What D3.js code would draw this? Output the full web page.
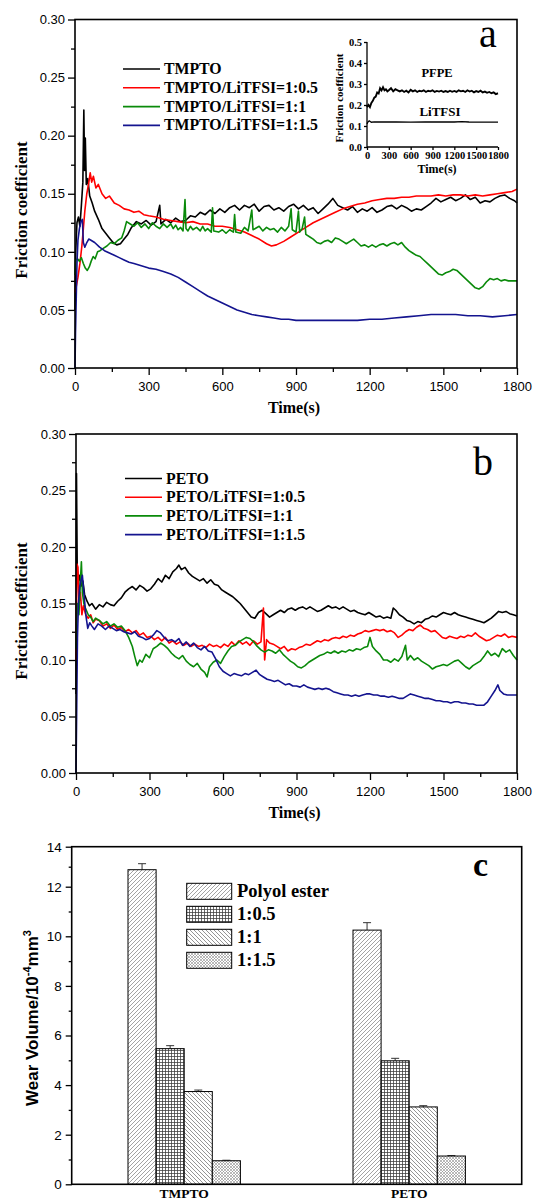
<!DOCTYPE html>
<html><head><meta charset="utf-8">
<script src="https://cdn.jsdelivr.net/npm/d3@7"></script>
<style>body{margin:0;background:#fff}svg{display:block}</style>
</head><body>
<svg id="chart" width="533" height="1200"></svg>
<script>
// ---------------- DATA ----------------
const timeTicks = [0,300,600,900,1200,1500,1800];
const timeMinor = [150,450,750,1050,1350,1650];
const fricTicks = [0,0.05,0.10,0.15,0.20,0.25,0.30];
const fricMinor = [0.025,0.075,0.125,0.175,0.225,0.275];

const seriesNamesA = ["TMPTO","TMPTO/LiTFSI=1:0.5","TMPTO/LiTFSI=1:1","TMPTO/LiTFSI=1:1.5"];
const seriesNamesB = ["PETO","PETO/LiTFSI=1:0.5","PETO/LiTFSI=1:1","PETO/LiTFSI=1:1.5"];
const seriesColors = ["#000000","#ff0000","#0a8a0a","#14148f"];

const tmpto = [[0,0.05],[3,0.10],[8,0.125],[14,0.13],[20,0.122],[26,0.14],[32,0.16],[36,0.222],[39,0.17],[42,0.198],[46,0.158],[52,0.163],[60,0.148],[70,0.142],[80,0.135],[95,0.128],[110,0.12],[125,0.116],[140,0.112],[155,0.108],[170,0.106],[185,0.107],[200,0.111],[215,0.115],[230,0.121],[250,0.126],[270,0.124],[290,0.127],[310,0.123],[330,0.126],[345,0.14],[350,0.124],[370,0.128],[390,0.125],[410,0.129],[430,0.126],[450,0.127],[470,0.131],[490,0.13],[510,0.134],[530,0.132],[550,0.136],[570,0.133],[590,0.137],[610,0.134],[630,0.138],[650,0.14],[670,0.136],[690,0.14],[710,0.138],[730,0.141],[750,0.135],[770,0.139],[790,0.14],[810,0.136],[830,0.138],[850,0.135],[870,0.139],[890,0.141],[910,0.137],[930,0.14],[950,0.136],[970,0.138],[990,0.133],[1010,0.137],[1030,0.141],[1050,0.146],[1070,0.14],[1090,0.138],[1110,0.136],[1130,0.139],[1150,0.134],[1170,0.137],[1190,0.135],[1210,0.138],[1230,0.134],[1250,0.136],[1270,0.139],[1290,0.14],[1310,0.137],[1330,0.14],[1350,0.138],[1370,0.135],[1390,0.137],[1410,0.136],[1430,0.139],[1450,0.142],[1470,0.146],[1490,0.143],[1510,0.145],[1530,0.147],[1550,0.144],[1570,0.146],[1590,0.149],[1610,0.145],[1630,0.147],[1650,0.142],[1670,0.144],[1690,0.143],[1710,0.146],[1730,0.148],[1750,0.149],[1770,0.146],[1790,0.144],[1800,0.142]];
const tmpto05 = [[0,0.065],[5,0.07],[12,0.078],[20,0.09],[28,0.105],[34,0.12],[40,0.135],[48,0.15],[55,0.158],[62,0.168],[68,0.16],[75,0.165],[85,0.155],[95,0.158],[110,0.15],[125,0.146],[140,0.148],[160,0.142],[180,0.14],[200,0.137],[220,0.136],[240,0.134],[260,0.135],[280,0.132],[300,0.131],[330,0.13],[360,0.128],[390,0.127],[420,0.126],[450,0.125],[480,0.126],[510,0.124],[540,0.124],[570,0.122],[600,0.122],[630,0.121],[660,0.119],[690,0.117],[720,0.114],[750,0.111],[780,0.107],[800,0.105],[820,0.106],[850,0.109],[880,0.113],[910,0.117],[940,0.121],[970,0.125],[1000,0.128],[1030,0.131],[1060,0.134],[1090,0.137],[1120,0.139],[1150,0.141],[1180,0.142],[1210,0.144],[1240,0.145],[1270,0.146],[1300,0.146],[1330,0.147],[1360,0.147],[1390,0.148],[1420,0.148],[1450,0.148],[1480,0.149],[1510,0.148],[1540,0.149],[1570,0.149],[1600,0.148],[1630,0.149],[1660,0.148],[1690,0.149],[1720,0.15],[1750,0.151],[1780,0.152],[1800,0.154]];
const tmpto1 = [[0,0.08],[3,0.093],[10,0.094],[18,0.092],[26,0.095],[34,0.09],[42,0.086],[50,0.084],[58,0.087],[66,0.092],[74,0.096],[82,0.094],[92,0.1],[102,0.101],[115,0.103],[130,0.105],[145,0.108],[160,0.107],[175,0.11],[190,0.112],[200,0.118],[210,0.126],[225,0.124],[240,0.122],[255,0.125],[270,0.121],[285,0.124],[300,0.12],[315,0.125],[330,0.122],[345,0.12],[360,0.124],[375,0.121],[390,0.124],[400,0.12],[410,0.123],[420,0.119],[430,0.121],[440,0.118],[448,0.145],[452,0.12],[460,0.118],[470,0.122],[480,0.119],[495,0.121],[510,0.118],[520,0.122],[530,0.118],[540,0.12],[555,0.117],[560,0.138],[565,0.118],[585,0.117],[600,0.119],[615,0.116],[630,0.119],[645,0.117],[650,0.132],[655,0.117],[675,0.116],[690,0.121],[705,0.118],[720,0.136],[725,0.119],[750,0.122],[765,0.118],[780,0.121],[795,0.119],[810,0.12],[825,0.117],[840,0.121],[855,0.118],[870,0.122],[880,0.137],[885,0.119],[900,0.117],[910,0.135],[915,0.117],[925,0.12],[935,0.13],[940,0.115],[955,0.113],[970,0.111],[985,0.108],[1000,0.107],[1015,0.109],[1030,0.11],[1045,0.108],[1060,0.112],[1075,0.111],[1090,0.109],[1105,0.107],[1120,0.109],[1135,0.111],[1150,0.108],[1165,0.105],[1180,0.106],[1195,0.104],[1210,0.106],[1225,0.104],[1240,0.106],[1255,0.107],[1270,0.105],[1285,0.107],[1300,0.108],[1315,0.106],[1330,0.108],[1345,0.104],[1360,0.101],[1375,0.099],[1390,0.097],[1405,0.096],[1420,0.093],[1435,0.09],[1450,0.087],[1465,0.084],[1480,0.081],[1495,0.08],[1510,0.082],[1525,0.083],[1540,0.085],[1555,0.084],[1570,0.081],[1585,0.078],[1600,0.075],[1615,0.072],[1630,0.069],[1645,0.068],[1660,0.07],[1675,0.074],[1690,0.077],[1705,0.076],[1720,0.077],[1735,0.075],[1750,0.076],[1765,0.075],[1780,0.075],[1800,0.075]];
const tmpto15 = [[0,0.0],[2,0.03],[5,0.06],[8,0.09],[12,0.11],[18,0.12],[24,0.126],[30,0.128],[34,0.108],[40,0.104],[48,0.108],[56,0.111],[65,0.11],[80,0.108],[100,0.104],[120,0.101],[140,0.099],[160,0.097],[180,0.095],[200,0.093],[220,0.091],[240,0.09],[270,0.088],[300,0.086],[330,0.085],[360,0.083],[390,0.081],[420,0.078],[450,0.074],[480,0.07],[510,0.066],[540,0.062],[570,0.059],[600,0.056],[630,0.053],[660,0.05],[690,0.048],[720,0.046],[750,0.045],[780,0.044],[810,0.043],[840,0.042],[870,0.042],[900,0.041],[950,0.041],[1000,0.041],[1050,0.041],[1100,0.041],[1150,0.041],[1200,0.042],[1250,0.042],[1300,0.043],[1350,0.044],[1400,0.045],[1450,0.046],[1500,0.046],[1550,0.046],[1600,0.045],[1650,0.045],[1700,0.044],[1750,0.045],[1800,0.046]];

const peto = [[0,0.07],[2,0.265],[5,0.18],[10,0.17],[15,0.175],[20,0.165],[28,0.17],[35,0.158],[45,0.152],[55,0.148],[65,0.15],[80,0.145],[95,0.149],[110,0.147],[125,0.151],[140,0.149],[155,0.148],[170,0.152],[185,0.155],[200,0.16],[215,0.163],[230,0.165],[245,0.162],[260,0.166],[275,0.164],[290,0.161],[305,0.163],[320,0.167],[335,0.172],[350,0.169],[365,0.175],[380,0.172],[395,0.178],[410,0.181],[420,0.184],[430,0.18],[445,0.182],[460,0.177],[475,0.174],[490,0.172],[505,0.17],[520,0.172],[535,0.168],[550,0.171],[565,0.167],[580,0.166],[595,0.162],[610,0.16],[625,0.158],[640,0.156],[655,0.153],[670,0.15],[685,0.146],[700,0.142],[715,0.138],[730,0.137],[745,0.142],[760,0.144],[775,0.141],[790,0.138],[805,0.14],[820,0.142],[835,0.144],[850,0.142],[865,0.145],[880,0.146],[895,0.144],[910,0.146],[925,0.147],[940,0.145],[955,0.147],[970,0.145],[985,0.143],[1000,0.144],[1015,0.146],[1030,0.148],[1045,0.146],[1060,0.147],[1075,0.145],[1090,0.147],[1105,0.145],[1120,0.143],[1135,0.144],[1150,0.142],[1165,0.141],[1180,0.14],[1195,0.142],[1210,0.14],[1225,0.138],[1240,0.139],[1255,0.137],[1270,0.138],[1285,0.137],[1295,0.146],[1305,0.144],[1320,0.14],[1335,0.138],[1350,0.135],[1365,0.134],[1380,0.132],[1395,0.134],[1410,0.133],[1425,0.136],[1440,0.137],[1455,0.139],[1470,0.138],[1485,0.14],[1500,0.142],[1515,0.141],[1530,0.14],[1545,0.142],[1560,0.14],[1575,0.139],[1590,0.138],[1605,0.137],[1620,0.136],[1635,0.135],[1650,0.134],[1665,0.133],[1680,0.135],[1695,0.137],[1710,0.14],[1725,0.143],[1740,0.142],[1755,0.143],[1770,0.141],[1785,0.14],[1800,0.139]];
const peto05 = [[0,0.1],[4,0.185],[8,0.182],[12,0.15],[18,0.16],[24,0.14],[30,0.148],[40,0.14],[50,0.137],[60,0.14],[70,0.133],[80,0.136],[95,0.135],[110,0.13],[125,0.132],[140,0.128],[155,0.131],[170,0.127],[185,0.129],[200,0.125],[215,0.127],[230,0.124],[245,0.126],[260,0.122],[275,0.124],[290,0.12],[305,0.121],[320,0.118],[335,0.12],[350,0.117],[365,0.12],[380,0.115],[395,0.117],[410,0.114],[425,0.116],[440,0.113],[455,0.115],[470,0.112],[485,0.114],[500,0.112],[515,0.113],[530,0.111],[545,0.114],[560,0.112],[575,0.113],[590,0.111],[605,0.114],[620,0.112],[635,0.116],[650,0.113],[665,0.117],[680,0.114],[695,0.116],[710,0.113],[725,0.117],[740,0.114],[755,0.116],[765,0.146],[770,0.1],[778,0.118],[790,0.115],[805,0.114],[820,0.112],[835,0.11],[850,0.112],[865,0.108],[880,0.11],[895,0.109],[910,0.111],[925,0.112],[940,0.114],[955,0.113],[970,0.115],[985,0.117],[1000,0.116],[1015,0.118],[1030,0.117],[1045,0.119],[1060,0.12],[1075,0.119],[1090,0.121],[1105,0.12],[1120,0.122],[1135,0.121],[1150,0.123],[1165,0.124],[1180,0.126],[1195,0.125],[1210,0.126],[1225,0.127],[1240,0.126],[1255,0.127],[1270,0.125],[1285,0.126],[1300,0.124],[1315,0.12],[1330,0.122],[1345,0.125],[1360,0.127],[1375,0.126],[1390,0.129],[1405,0.131],[1420,0.128],[1435,0.127],[1450,0.125],[1465,0.126],[1480,0.123],[1495,0.12],[1510,0.119],[1525,0.121],[1540,0.12],[1555,0.119],[1570,0.121],[1585,0.12],[1600,0.122],[1615,0.121],[1630,0.124],[1645,0.121],[1660,0.119],[1675,0.117],[1690,0.118],[1705,0.12],[1720,0.122],[1735,0.121],[1750,0.123],[1765,0.12],[1780,0.121],[1800,0.12]];
const peto1 = [[0,0.11],[6,0.15],[12,0.14],[18,0.17],[22,0.187],[26,0.16],[32,0.15],[40,0.145],[50,0.14],[60,0.138],[70,0.134],[80,0.137],[95,0.135],[110,0.132],[125,0.134],[140,0.13],[155,0.132],[170,0.129],[185,0.13],[200,0.126],[215,0.12],[230,0.112],[240,0.103],[250,0.095],[260,0.1],[270,0.098],[285,0.105],[300,0.102],[315,0.11],[330,0.112],[345,0.115],[360,0.113],[375,0.11],[390,0.106],[405,0.103],[420,0.101],[435,0.104],[450,0.099],[465,0.096],[480,0.094],[495,0.097],[510,0.092],[525,0.089],[535,0.085],[545,0.094],[560,0.098],[575,0.1],[590,0.097],[605,0.103],[620,0.108],[635,0.112],[650,0.113],[665,0.116],[680,0.118],[695,0.12],[710,0.119],[725,0.116],[740,0.112],[755,0.109],[770,0.107],[785,0.109],[800,0.108],[815,0.106],[830,0.109],[845,0.105],[860,0.102],[875,0.099],[890,0.097],[905,0.094],[920,0.093],[935,0.095],[950,0.098],[965,0.1],[980,0.102],[995,0.104],[1010,0.105],[1025,0.107],[1040,0.106],[1055,0.108],[1070,0.106],[1085,0.108],[1100,0.107],[1115,0.109],[1130,0.108],[1145,0.11],[1160,0.109],[1175,0.111],[1190,0.112],[1200,0.12],[1210,0.112],[1225,0.108],[1240,0.105],[1255,0.1],[1270,0.1],[1285,0.098],[1300,0.101],[1315,0.099],[1330,0.103],[1345,0.113],[1352,0.1],[1365,0.104],[1380,0.1],[1395,0.102],[1410,0.099],[1425,0.097],[1440,0.095],[1455,0.092],[1470,0.094],[1485,0.095],[1500,0.096],[1515,0.095],[1530,0.097],[1545,0.099],[1560,0.1],[1575,0.097],[1590,0.094],[1605,0.092],[1620,0.095],[1635,0.097],[1650,0.099],[1665,0.103],[1680,0.108],[1695,0.104],[1710,0.106],[1725,0.103],[1740,0.11],[1755,0.107],[1770,0.109],[1785,0.104],[1800,0.1]];
const peto15 = [[0,0.0],[3,0.06],[6,0.12],[10,0.15],[15,0.165],[20,0.17],[26,0.175],[32,0.16],[40,0.14],[48,0.128],[56,0.133],[65,0.13],[75,0.127],[90,0.132],[105,0.13],[120,0.127],[135,0.13],[150,0.128],[165,0.126],[180,0.127],[195,0.125],[210,0.124],[225,0.123],[240,0.125],[255,0.121],[270,0.12],[285,0.118],[300,0.119],[315,0.122],[330,0.126],[345,0.124],[360,0.12],[375,0.117],[390,0.118],[405,0.116],[420,0.119],[435,0.113],[450,0.116],[465,0.112],[480,0.115],[495,0.111],[510,0.109],[525,0.112],[540,0.108],[555,0.107],[570,0.101],[585,0.094],[600,0.09],[615,0.088],[630,0.086],[645,0.088],[660,0.087],[675,0.086],[690,0.088],[705,0.087],[720,0.089],[735,0.091],[750,0.087],[765,0.085],[780,0.083],[795,0.082],[810,0.081],[825,0.082],[840,0.08],[855,0.078],[870,0.079],[885,0.077],[900,0.077],[915,0.076],[930,0.078],[945,0.076],[960,0.075],[975,0.074],[990,0.075],[1005,0.074],[1020,0.075],[1035,0.074],[1050,0.072],[1065,0.071],[1080,0.07],[1095,0.069],[1110,0.069],[1125,0.068],[1140,0.069],[1155,0.068],[1170,0.069],[1185,0.07],[1200,0.07],[1215,0.069],[1230,0.069],[1245,0.068],[1260,0.068],[1275,0.067],[1290,0.068],[1305,0.067],[1320,0.066],[1335,0.066],[1350,0.068],[1365,0.07],[1380,0.069],[1395,0.068],[1410,0.067],[1425,0.066],[1440,0.066],[1455,0.065],[1470,0.064],[1485,0.064],[1500,0.063],[1515,0.063],[1530,0.062],[1545,0.063],[1560,0.063],[1575,0.062],[1590,0.062],[1605,0.061],[1620,0.061],[1635,0.06],[1650,0.06],[1665,0.06],[1680,0.063],[1695,0.068],[1710,0.073],[1722,0.078],[1730,0.073],[1745,0.07],[1760,0.069],[1780,0.069],[1800,0.069]];

// inset
const insetTimeTicks = [0,300,600,900,1200,1500,1800];
const insetFricTicks = [0,0.1,0.2,0.3,0.4,0.5];
const pfpe = [[0,0.19],[20,0.2],[40,0.19],[60,0.21],[80,0.22],[100,0.235],[120,0.24],[140,0.26],[160,0.255],[180,0.28],[200,0.27],[220,0.285],[240,0.27],[260,0.275],[280,0.265],[300,0.27],[330,0.28],[360,0.265],[390,0.275],[420,0.27],[450,0.265],[480,0.27],[510,0.262],[540,0.268],[570,0.26],[600,0.272],[630,0.265],[660,0.27],[690,0.262],[720,0.268],[750,0.265],[780,0.27],[810,0.262],[840,0.268],[870,0.265],[900,0.27],[930,0.262],[960,0.267],[990,0.264],[1020,0.268],[1050,0.262],[1080,0.266],[1110,0.262],[1140,0.268],[1170,0.263],[1200,0.267],[1230,0.262],[1260,0.27],[1290,0.265],[1320,0.268],[1350,0.262],[1380,0.27],[1410,0.264],[1440,0.268],[1470,0.26],[1500,0.266],[1530,0.262],[1560,0.268],[1590,0.26],[1620,0.264],[1650,0.258],[1680,0.262],[1710,0.256],[1740,0.26],[1770,0.252],[1800,0.256]];
const litfsi = [[0,0.11],[15,0.12],[30,0.125],[60,0.118],[100,0.12],[200,0.119],[400,0.12],[600,0.118],[800,0.119],[1000,0.12],[1200,0.119],[1300,0.121],[1400,0.119],[1600,0.118],[1800,0.118]];

// wear volume bars
const barCategories = ["TMPTO","PETO"];
const barSeries = ["Polyol ester","1:0.5","1:1","1:1.5"];
const wearTMPTO = [12.85,5.47,3.74,0.95];
const wearPETO = [10.25,4.98,3.12,1.14];
const errTMPTO = [0.3,0.12,0.06,0.02];
const errPETO = [0.3,0.1,0.05,0.02];
const wearTicks = [0,2,4,6,8,10,12,14];
const wearMinor = [1,3,5,7,9,11,13];

// ---------------- DRAW ----------------
const SERIF = "'Liberation Serif','Times New Roman',serif";
const SANS = "'Liberation Sans',Arial,sans-serif";
const svg = d3.select("#chart");
const defs = svg.append("defs");

function styleAxis(g, fs, family, weight){
  g.selectAll("path.domain").remove();
  g.selectAll("line").attr("stroke","#000").attr("stroke-width",1.3);
  g.selectAll("text").attr("font-size",fs).attr("font-family",family).attr("font-weight",weight||"normal").attr("fill","#000");
}

function frictionPanel(cfg){
  const x = d3.scaleLinear().domain([0,1800]).range([cfg.L,cfg.R]);
  const y = d3.scaleLinear().domain([0,0.30]).range([cfg.B,cfg.T]);
  const g = svg.append("g");
  g.append("g").attr("transform",`translate(${cfg.L},0)`)
    .call(d3.axisLeft(y).tickValues(fricMinor).tickSize(4).tickFormat(""))
    .call(a=>styleAxis(a,13,SANS));
  g.append("g").attr("transform",`translate(0,${cfg.B})`)
    .call(d3.axisBottom(x).tickValues(timeMinor).tickSize(4).tickFormat(""))
    .call(a=>styleAxis(a,13,SANS));
  g.append("g").attr("transform",`translate(${cfg.L},0)`)
    .call(d3.axisLeft(y).tickValues(fricTicks).tickSize(7).tickPadding(3).tickFormat(d3.format(".2f")))
    .call(a=>styleAxis(a,13,SANS));
  g.append("g").attr("transform",`translate(0,${cfg.B})`)
    .call(d3.axisBottom(x).tickValues(timeTicks).tickSize(7).tickPadding(7).tickFormat(d3.format("d")))
    .call(a=>styleAxis(a,13,SANS));
  const line = d3.line().x(d=>x(d[0])).y(d=>y(d[1]));
  cfg.series.forEach((s,i)=>{
    g.append("path").datum(s).attr("d",line).attr("fill","none")
      .attr("stroke",seriesColors[i]).attr("stroke-width",1.6).attr("stroke-linejoin","round");
  });
  g.append("rect").attr("x",cfg.L).attr("y",cfg.T).attr("width",cfg.R-cfg.L).attr("height",cfg.B-cfg.T)
    .attr("fill","none").attr("stroke","#000").attr("stroke-width",1.6);
  cfg.names.forEach((n,i)=>{
    const ly = cfg.legY + i*cfg.legStep;
    g.append("line").attr("x1",cfg.legX).attr("x2",cfg.legX+37).attr("y1",ly).attr("y2",ly)
      .attr("stroke",seriesColors[i]).attr("stroke-width",1.6);
    g.append("text").attr("x",cfg.legX+41).attr("y",ly+5).text(n)
      .attr("font-family",SERIF).attr("font-weight","bold").attr("font-size",15.8);
  });
  g.append("text").attr("x",(cfg.L+cfg.R)/2-2).attr("y",cfg.B+45).attr("text-anchor","middle")
    .attr("font-family",SERIF).attr("font-weight","bold").attr("font-size",16).text("Time(s)");
  g.append("text").attr("transform",`translate(27,${cfg.yLabC}) rotate(-90)`).attr("text-anchor","middle")
    .attr("font-family",SERIF).attr("font-weight","bold").attr("font-size",17).text("Friction coefficient");
  g.append("text").attr("x",cfg.letX).attr("y",cfg.letY).attr("font-family",SERIF)
    .attr("font-size",40).text(cfg.letter);
  return {x,y,g};
}

frictionPanel({L:75,R:517,T:19.5,B:368,series:[tmpto,tmpto05,tmpto1,tmpto15],names:seriesNamesA,
  legX:123,legY:69,legStep:18.8,yLabC:210,letter:"a",letX:479,letY:47});
frictionPanel({L:76,R:517,T:434,B:773,series:[peto,peto05,peto1,peto15],names:seriesNamesB,
  legX:125,legY:478.5,legStep:18.7,yLabC:611,letter:"b",letX:473,letY:475});

// inset
(function(){
  const L=367,R=498,T=42,B=147;
  const x = d3.scaleLinear().domain([0,1800]).range([L,R]);
  const y = d3.scaleLinear().domain([0,0.5]).range([B,T]);
  const g = svg.append("g");
  g.append("g").attr("transform",`translate(${L},0)`)
    .call(d3.axisLeft(y).tickValues(insetFricTicks).tickSize(3).tickPadding(2).tickFormat(d3.format(".1f")))
    .call(a=>styleAxis(a,10.5,SERIF,"bold"));
  g.append("g").attr("transform",`translate(0,${B})`)
    .call(d3.axisBottom(x).tickValues(insetTimeTicks).tickSize(3).tickPadding(2).tickFormat(d3.format("d")))
    .call(a=>styleAxis(a,10.5,SERIF,"bold"));
  g.append("line").attr("x1",L).attr("x2",L).attr("y1",T).attr("y2",B).attr("stroke","#000").attr("stroke-width",1.3);
  g.append("line").attr("x1",L).attr("x2",R).attr("y1",B).attr("y2",B).attr("stroke","#000").attr("stroke-width",1.3);
  const line = d3.line().x(d=>x(d[0])).y(d=>y(d[1]));
  g.append("path").datum(pfpe).attr("d",line).attr("fill","none").attr("stroke","#000").attr("stroke-width",1.9);
  g.append("path").datum(litfsi).attr("d",line).attr("fill","none").attr("stroke","#000").attr("stroke-width",1.3);
  g.append("text").attr("x",437).attr("y",77).attr("text-anchor","middle").attr("font-family",SERIF).attr("font-weight","bold").attr("font-size",12.5).text("PFPE");
  g.append("text").attr("x",440).attr("y",116).attr("text-anchor","middle").attr("font-family",SERIF).attr("font-weight","bold").attr("font-size",13).text("LiTFSI");
  g.append("text").attr("x",437).attr("y",173).attr("text-anchor","middle").attr("font-family",SERIF).attr("font-weight","bold").attr("font-size",12).text("Time(s)");
  g.append("text").attr("transform","translate(343,98) rotate(-90)").attr("text-anchor","middle").attr("font-family",SERIF).attr("font-weight","bold").attr("font-size",11).text("Friction coefficient");
})();

// bar chart
(function(){
  const L=71.7,R=521.7,T=846.7,B=1184.3;
  function pat(id,w,h,d,col,sw){
    const p = defs.append("pattern").attr("id",id).attr("patternUnits","userSpaceOnUse").attr("width",w).attr("height",h);
    p.append("rect").attr("width",w).attr("height",h).attr("fill","#fff");
    p.append("path").attr("d",d).attr("stroke",col).attr("stroke-width",sw).attr("fill","none");
  }
  pat("pat0",4,4,"M-1,1 L1,-1 M0,4 L4,0 M3,5 L5,3","#8c8c8c",0.8);
  pat("pat1",3,3,"M0,0.5 H3 M0.5,0 V3","#3a3a3a",0.75);
  pat("pat2",4,4,"M-1,3 L1,5 M0,0 L4,4 M3,-1 L5,1","#7a7a7a",0.8);
  pat("pat3",3,3,"M0,0 L3,3 M3,0 L0,3","#8a8a8a",0.6);
  const fills = ["url(#pat0)","url(#pat1)","url(#pat2)","url(#pat3)"];

  const x0 = d3.scaleBand().domain(barCategories).range([L,R]);
  const x1 = d3.scaleBand().domain(barSeries).range([-56.2,56.2]);
  const y = d3.scaleLinear().domain([0,12,14]).range([B,886.7,T]);
  const g = svg.append("g");
  g.append("g").attr("transform",`translate(${L},0)`)
    .call(d3.axisLeft(y).tickValues(wearMinor).tickSize(3).tickFormat(""))
    .call(a=>styleAxis(a,13.5,SANS));
  g.append("g").attr("transform",`translate(${L},0)`)
    .call(d3.axisLeft(y).tickValues(wearTicks).tickSize(6).tickPadding(4).tickFormat(d3.format("d")))
    .call(a=>styleAxis(a,13.5,SANS));
  const vals = {TMPTO:wearTMPTO, PETO:wearPETO};
  const errs = {TMPTO:errTMPTO, PETO:errPETO};
  barCategories.forEach(c=>{
    const cx = x0(c)+x0.bandwidth()/2;
    barSeries.forEach((s,i)=>{
      const v = vals[c][i], e = errs[c][i];
      const bx = cx + x1(s);
      g.append("line").attr("x1",bx+x1.bandwidth()/2).attr("x2",bx+x1.bandwidth()/2)
        .attr("y1",y(v)).attr("y2",y(v+e)).attr("stroke","#333").attr("stroke-width",1);
      g.append("line").attr("x1",bx+x1.bandwidth()/2-4).attr("x2",bx+x1.bandwidth()/2+4)
        .attr("y1",y(v+e)).attr("y2",y(v+e)).attr("stroke","#333").attr("stroke-width",1);
      g.append("rect").attr("x",bx).attr("y",y(v)).attr("width",x1.bandwidth()).attr("height",B-y(v))
        .attr("fill",fills[i]).attr("stroke","#000").attr("stroke-width",1);
    });
    g.append("text").attr("x",cx).attr("y",1198).attr("text-anchor","middle")
      .attr("font-family",SERIF).attr("font-weight","bold").attr("font-size",13.5).text(c);
  });
  g.append("rect").attr("x",L).attr("y",T).attr("width",R-L).attr("height",B-T)
    .attr("fill","none").attr("stroke","#000").attr("stroke-width",1.6);
  barSeries.forEach((s,i)=>{
    const ly = 883.3 + i*23;
    g.append("rect").attr("x",186.7).attr("y",ly).attr("width",45).attr("height",16)
      .attr("fill",fills[i]).attr("stroke","#000").attr("stroke-width",1);
    g.append("text").attr("x",237).attr("y",ly+14).attr("font-family",SERIF).attr("font-weight","bold")
      .attr("font-size",18.5).text(s);
  });
  g.append("text").attr("x",473).attr("y",876).attr("font-family",SERIF).attr("font-weight","bold")
    .attr("font-size",34).text("c");
  const yl = g.append("text").attr("transform","translate(38,1018) rotate(-90)").attr("text-anchor","middle")
    .attr("font-family",SANS).attr("font-weight","bold").attr("font-size",17);
  yl.append("tspan").text("Wear Volume/10");
  yl.append("tspan").attr("dy",-7).attr("font-size",11).text("-4");
  yl.append("tspan").attr("dy",7).text("mm");
  yl.append("tspan").attr("dy",-7).attr("font-size",11).text("3");
})();
</script>
</body></html>
